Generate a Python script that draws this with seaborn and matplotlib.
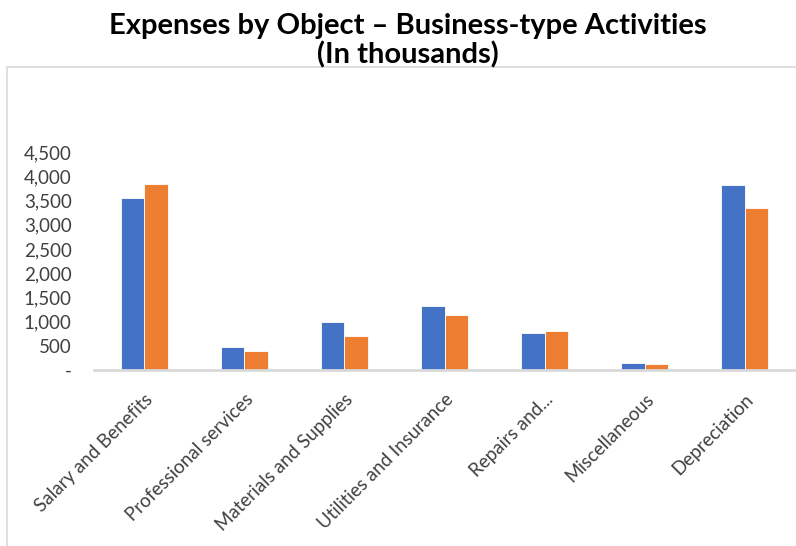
import pandas as pd
import matplotlib.pyplot as plt
import matplotlib.ticker as mticker
from matplotlib.patches import Rectangle
import seaborn as sns

# datos (en miles)
categorias = ["Salary and Benefits", "Professional services", "Materials and Supplies",
              "Utilities and Insurance", "Repairs and...", "Miscellaneous", "Depreciation"]
serie_1 = [3555, 470, 1000, 1330, 772, 145, 3815]
serie_2 = [3845, 400, 698, 1145, 814, 118, 3348]
nombres_series = ["Serie 1", "Serie 2"]
colores = ["#4472C4", "#ED7D31"]

datos = pd.DataFrame({
    "categoria": categorias * 2,
    "valor": serie_1 + serie_2,
    "serie": [nombres_series[0]] * len(categorias) + [nombres_series[1]] * len(categorias),
})

sns.set_style("white")
plt.rcParams["font.family"] = ["Lato", "DejaVu Sans"]

fig = plt.figure(figsize=(7.96, 5.46), dpi=100)

# marco gris del area del grafico
fig.patches.append(Rectangle((7 / 796, -0.05), 1.1, 1 - 67 / 546 + 0.05,
                             transform=fig.transFigure, fill=False,
                             edgecolor="#D9D9D9", linewidth=1.2))

ax = fig.add_axes([94 / 796, 1 - 370 / 546, 701 / 796, (370 - 152) / 546])
sns.barplot(data=datos, x="categoria", y="valor", hue="serie", palette=colores,
            saturation=1, width=0.47, ax=ax, legend=False,
            edgecolor="white", linewidth=0.6)

ax.set_ylim(0, 4500)
ax.set_xlim(-0.5, len(categorias) - 0.5)
ax.yaxis.set_major_locator(mticker.MultipleLocator(500))
ax.yaxis.set_major_formatter(mticker.FuncFormatter(lambda v, p: "-" if v == 0 else f"{v:,.0f}"))
ax.set_xlabel("")
ax.set_ylabel("")
for lado in ["top", "right", "left"]:
    ax.spines[lado].set_visible(False)
ax.spines["bottom"].set_color("#D9D9D9")
ax.spines["bottom"].set_linewidth(2)
ax.tick_params(axis="y", labelsize=13.5, colors="#404040", pad=16, length=0)
ax.tick_params(axis="x", labelsize=13.5, colors="#404040", length=0, pad=15)
plt.setp(ax.get_xticklabels(), rotation=45, ha="right", rotation_mode="anchor")

fig.text(0.5126, 0.926, "Expenses by Object \u2013 Business-type Activities\n(In thousands)",
         ha="center", va="center", fontsize=21, fontweight="bold", linespacing=1.12,
         color="black")

fig.savefig("out.png", dpi=100)
